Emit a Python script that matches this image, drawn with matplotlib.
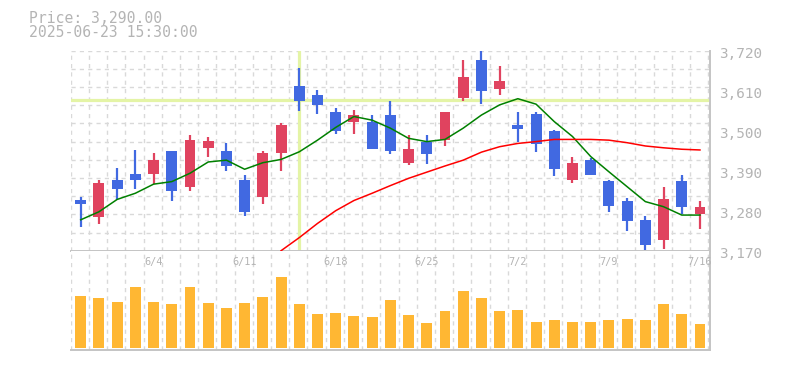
import matplotlib.pyplot as plt
import matplotlib.transforms as mtransforms
import numpy as np

# daily candles 5/29 .. 7/16 (35 trading days)
dates = ['5/29', '5/30', '6/2', '6/3', '6/4', '6/5', '6/6', '6/9', '6/10', '6/11',
         '6/12', '6/13', '6/16', '6/17', '6/18', '6/19', '6/20', '6/23', '6/24', '6/25',
         '6/26', '6/27', '6/30', '7/1', '7/2', '7/3', '7/4', '7/7', '7/8', '7/9',
         '7/10', '7/11', '7/14', '7/15', '7/16']
opens = [3309, 3264, 3364, 3381, 3382, 3444, 3346, 3453, 3444, 3364,
         3319, 3439, 3623, 3598, 3551, 3524, 3524, 3543, 3411, 3469,
         3474, 3590, 3694, 3615, 3516, 3546, 3499, 3364, 3419, 3362,
         3307, 3254, 3199, 3362, 3272]
highs = [3318, 3364, 3397, 3447, 3439, 3444, 3488, 3483, 3466, 3378,
         3444, 3521, 3672, 3612, 3562, 3557, 3543, 3582, 3488, 3488,
         3551, 3694, 3722, 3678, 3551, 3551, 3502, 3428, 3425, 3364,
         3315, 3265, 3345, 3378, 3307]
lows = [3236, 3244, 3310, 3341, 3353, 3308, 3335, 3429, 3390, 3266,
        3299, 3389, 3554, 3546, 3491, 3491, 3450, 3436, 3406, 3408,
        3458, 3582, 3573, 3598, 3469, 3441, 3375, 3356, 3378, 3276,
        3224, 3172, 3175, 3271, 3230]
closes = [3299, 3356, 3341, 3365, 3419, 3335, 3474, 3472, 3404, 3277,
          3439, 3516, 3582, 3571, 3499, 3543, 3450, 3444, 3450, 3436,
          3551, 3648, 3609, 3637, 3505, 3463, 3395, 3411, 3378, 3293,
          3252, 3186, 3312, 3290, 3290]
volumes = [517, 497, 457, 607, 457, 437, 607, 447, 397, 447,
           507, 707, 437, 337, 347, 317, 307, 477, 327, 247,
           367, 567, 497, 367, 377, 257, 277, 257, 257, 277,
           287, 277, 437, 337, 237]
ma5 = [3255, 3277, 3311, 3328, 3353, 3360, 3383, 3414, 3419, 3394,
       3412, 3421, 3442, 3474, 3509, 3539, 3529, 3507, 3479, 3470,
       3476, 3507, 3543, 3571, 3588, 3573, 3525, 3484, 3429, 3387,
       3346, 3305, 3291, 3268, 3268]
ma25 = [np.nan] * 11 + [3170, 3206, 3245, 3280, 3308, 3328, 3349, 3369, 3386,
                        3403, 3419, 3441, 3456, 3465, 3470, 3476, 3476, 3476, 3474,
                        3467, 3458, 3453, 3449, 3447]
tick_dates = ['6/4', '6/11', '6/18', '6/25', '7/2', '7/9', '7/16']
cross_idx = 12
cross_price = 3584

up_col = '#e0435f'
down_col = '#4169e1'
txt_col = '#b4b4b4'
grid_col = '#d9d9d9'
mono = 'DejaVu Sans Mono'

x = np.arange(len(dates))
o = np.array(opens)
c = np.array(closes)
cols = [up_col if cc >= oo else down_col for oo, cc in zip(o, c)]

fig = plt.figure(figsize=(7.85, 3.7), dpi=100)
ax = fig.add_axes([70.7 / 785, 1 - 250.7 / 370, (710 - 70.7) / 785, 200 / 370])
axv = fig.add_axes([70.7 / 785, 1 - 350.3 / 370, (710 - 70.7) / 785, 99.6 / 370])

# crosshair
ax.axvline(cross_idx, ymin=0.005, ymax=0.995, color='#e4f4a6', lw=2.3, zorder=1)
ax.axhline(cross_price, color='#e4f4a6', lw=2.3, zorder=1)

# candles
ax.vlines(x, lows, highs, colors=cols, lw=1.6, zorder=3)
ax.bar(x, np.abs(c - o), bottom=np.minimum(o, c), width=0.6, color=cols, zorder=4)
ax.plot(x, ma5, color='#008000', lw=1.1, zorder=5)
ax.plot(x, ma25, color='#ff0000', lw=1.1, zorder=5)

axv.bar(x, volumes, width=0.6, color='#ffb733', zorder=3)

for a in (ax, axv):
    a.set_xlim(-0.55, 34.55)
    for k in range(-1, 35):
        a.axvline(k + 0.45, color=grid_col, lw=1, ls=(0, (3, 3)), zorder=0)
    for s in ('left', 'top'):
        a.spines[s].set_visible(False)
    for s in ('right', 'bottom'):
        a.spines[s].set_color('#c4c4c4')
        a.spines[s].set_linewidth(1.4)
    a.set_xticks([])

ax.set_ylim(3170, 3720)
for yv in np.arange(3220, 3720 + 1, 50):
    ax.axhline(yv, color=grid_col, lw=1, ls=(0, (3, 3)), zorder=0)
ax.yaxis.tick_right()
ticks = np.arange(3170, 3721, 110)
ax.set_yticks(ticks)
ax.set_yticklabels([f'{t:,}' for t in ticks], family=mono, fontsize=10.4, color=txt_col, va='center')
ax.tick_params(axis='y', length=0, pad=6.7)
shift = mtransforms.ScaledTranslation(0, -2.2 / 72, fig.dpi_scale_trans)
for lbl in ax.get_yticklabels():
    lbl.set_transform(lbl.get_transform() + shift)

axv.set_ylim(-23, 970)
axv.set_yticks([])

tr = mtransforms.blended_transform_factory(axv.transData, axv.transAxes)
for d in tick_dates:
    axv.text(dates.index(d), 0.885, d, transform=tr, ha='center', va='center',
             family=mono, fontsize=7.4, color=txt_col)

fig.text(29 / 785, 1 - 22.7 / 370, 'Price: 3,290.00', family=mono, fontsize=10.6,
         color=txt_col, va='baseline')
fig.text(29 / 785, 1 - 37.3 / 370, '2025-06-23 15:30:00', family=mono, fontsize=10.6,
         color=txt_col, va='baseline')

fig.savefig('out.png', dpi=100)
